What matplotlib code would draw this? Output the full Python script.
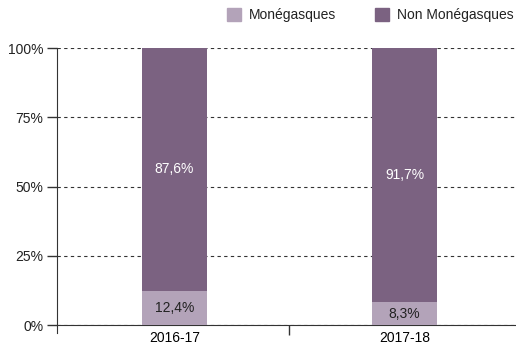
import matplotlib
matplotlib.use("Agg")
import matplotlib.pyplot as plt
from matplotlib.patches import Patch

plt.rcParams['font.family'] = ['Liberation Sans', 'DejaVu Sans']

years = ["2016-17", "2017-18"]
monegasques = [12.4, 8.3]
non_monegasques = [87.6, 91.7]
series_names = ["Monégasques", "Non Monégasques"]

light = "#b3a3b9"
dark = "#7b6281"
ink = "#222222"

fig = plt.figure(figsize=(5.16, 3.48), dpi=100)
ax = fig.add_axes([0.1105, 0.066, 0.892, 0.796])

x = range(len(years))
w = 0.28
ax.bar(x, monegasques, w, color=light, zorder=3)
ax.bar(x, non_monegasques, w, bottom=monegasques, color=dark, zorder=3)

for i in x:
    ax.text(i, monegasques[i] / 2, f"{monegasques[i]:.1f}%".replace(".", ","),
            ha="center", va="center", fontsize=10, color=ink, zorder=4)
    ax.text(i, monegasques[i] + non_monegasques[i] / 2,
            f"{non_monegasques[i]:.1f}%".replace(".", ","),
            ha="center", va="center", fontsize=10, color="white", zorder=4)

ax.set_xlim(-0.51, 1.49)
ax.set_ylim(0, 100)
ax.set_yticks([0, 25, 50, 75, 100])
ax.set_yticklabels(["0%", "25%", "50%", "75%", "100%"], fontsize=10, color=ink)
ax.set_xticks([0, 1])
ax.set_xticklabels(years, fontsize=10, color=ink)
ax.set_xticks([0.5], minor=True)
ax.tick_params(axis="x", which="major", length=0, pad=4)
ax.tick_params(axis="x", which="minor", length=7, width=1, direction="out", color="#333333")
ax.tick_params(axis="y", length=7, width=1, color="#333333", pad=3)
ax.yaxis.grid(True, linestyle=(0, (3, 3)), color="#333333", linewidth=0.8, zorder=0)

for s in ["top", "right"]:
    ax.spines[s].set_visible(False)
ax.spines["left"].set_color("#333333")
ax.spines["bottom"].set_color("#333333")
ax.spines["left"].set_bounds(-3, 100)
ax.spines["bottom"].set_position(("data", 0))

handles = [Patch(color=light), Patch(color=dark)]
fig.legend(handles, series_names, loc="upper right", bbox_to_anchor=(1.02, 1.012),
           ncol=2, frameon=False, fontsize=10, handlelength=1.0, handleheight=1.0,
           columnspacing=2.8, handletextpad=0.6, labelcolor=ink)

fig.savefig("out.png", dpi=100)
